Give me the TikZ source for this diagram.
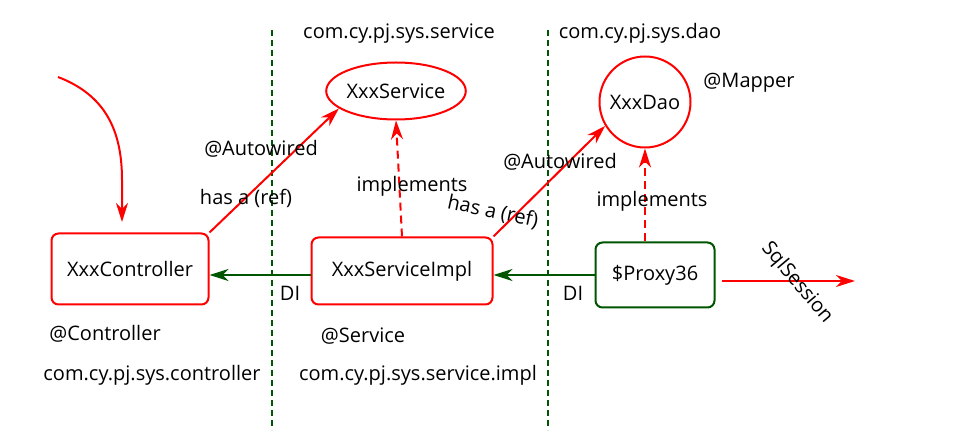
\documentclass[tikz,border=0pt]{standalone}
\usepackage{fontspec}
\setmainfont{Open Sans}
\usetikzlibrary{arrows.meta,shapes.geometric,positioning}
\definecolor{dkgreen}{RGB}{0,85,0}

\begin{document}
\begin{tikzpicture}[x=1pt,y=-1pt,>={Stealth[length=19pt,width=12pt,inset=6pt]},
  font=\fontsize{20}{24}\selectfont,
  redbox/.style={draw=red,line width=2pt,rounded corners=7pt},
  greenbox/.style={draw=dkgreen,line width=2pt,rounded corners=7pt},
  redline/.style={red,line width=2pt,->},
  diline/.style={dkgreen,line width=2pt,->},
  implline/.style={red,line width=2pt,->,dash pattern=on 8pt off 5pt},
  border/.style={dkgreen,line width=1.5pt,dash pattern=on 6pt off 4pt}]
  \useasboundingbox (0,0) rectangle (958,443);
  % package borders
  \draw[border] (272,30) -- (272,430);
  \draw[border] (548,30) -- (548,430);
  % classes
  \node[redbox,minimum width=157pt,minimum height=71pt] (ctrl) at (130,269) {XxxController};
  \node[redbox,minimum width=181pt,minimum height=67pt] (impl) at (402,271) {XxxServiceImpl};
  \node[greenbox,minimum width=119pt,minimum height=65pt] (proxy) at (655,275) {\$Proxy36};
  \node[draw=red,line width=2pt,ellipse,inner sep=0pt,minimum width=122pt,minimum height=57pt] (svc) at (396,91) {XxxService};
  \node[draw=red,line width=2pt,circle,inner sep=0pt,minimum size=91pt] (dao) at (645,102) {XxxDao};
  % annotations
  \node (ctrlann) at (105,334) {@Controller};
  \node (ctrlpkg) at (152,375) {com.cy.pj.sys.controller};
  \node (implann) at (363,336) {@Service};
  \node (implpkg) at (418,375) {com.cy.pj.sys.service.impl};
  \node (svcpkg) at (399,34) {com.cy.pj.sys.service};
  \node (daopkg) at (640,33) {com.cy.pj.sys.dao};
  \node (daoann) at (749,83) {@Mapper};
  % request
  \coordinate (req) at (58,77);
  \coordinate (hit) at (122,222);
  \draw[redline] (req) .. controls (105,95) and (122,130) .. (122,180) -- (hit);
  % has a
  \draw[redline] (ctrl.north east) -- (svc.197);
  \node (aw1) at (261,149) {@Autowired};
  \node (ha1) at (246,198) {has a (ref)};
  \draw[redline] (impl.north east) -- (dao.211);
  \node (aw2) at (560,162) {@Autowired};
  \node[rotate=-12] (ha2) at (493,212) {has a (ref)};
  % implements
  \draw[implline] (impl.north) -- (svc.south);
  \node (im1) at (412,186) {implements};
  \draw[implline] (proxy.north -| dao.south) -- (dao.south);
  \node (im2) at (652,201) {implements};
  % injection
  \draw[diline] (proxy.west) -- (impl.east |- proxy.west);
  \node (di2) at (573,293) {DI};
  \draw[diline] (impl.west |- proxy.west) -- (ctrl.east |- proxy.west);
  \node (di1) at (290,293) {DI};
  % sql session
  \coordinate (sqlend) at (855,281);
  \draw[redline] (proxy.east |- sqlend) ++(6,0) -- (sqlend);
  \node[rotate=-50] (sql) at (797,283) {SqlSession};
\end{tikzpicture}
\end{document}
